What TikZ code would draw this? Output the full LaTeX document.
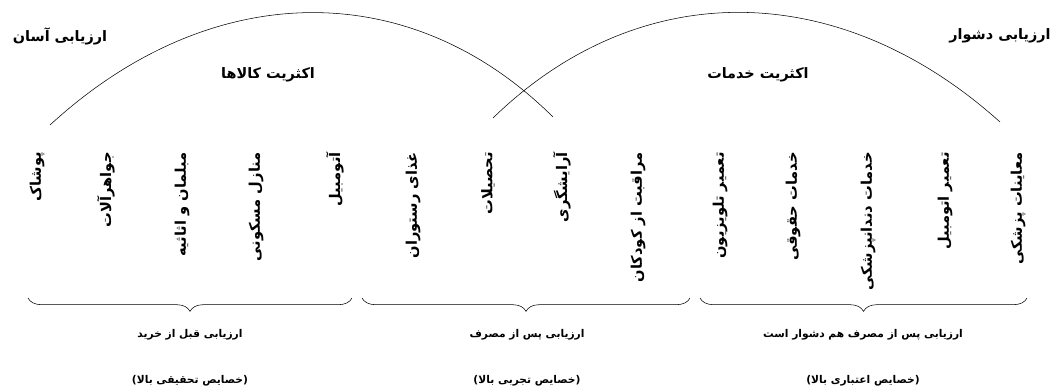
\documentclass[tikz,border=0pt]{standalone}
\usepackage{fontspec}
\newfontfamily\farsifont[Script=Arabic]{DejaVu Sans}
\TeXXeTstate=1
\usetikzlibrary{decorations.pathreplacing}

\newcommand{\fatext}[1]{\beginR #1\endR}

\begin{document}
\begin{tikzpicture}[x=0.75pt, y=-0.75pt,
    head/.style={font=\farsifont\bfseries\fontsize{10.8}{13}\selectfont},
    item/.style={rotate=90, anchor=east, inner sep=0pt,
        font=\farsifont\bfseries\fontsize{11}{13}\selectfont},
    note/.style={font=\farsifont\bfseries\fontsize{8}{10}\selectfont},
    curly/.style={decorate, decoration={brace, mirror, amplitude=10pt}}]
    \useasboundingbox (0,0) rectangle (1051,390);

    % two overlapping ranges
    \draw (50,125) coordinate (goodsA) .. controls (210,-22) and (410,-25) ..
        (553,117) coordinate (goodsB);
    \draw (493,118) coordinate (servA) .. controls (640,-25) and (840,-22) ..
        (1000,122) coordinate (servB);

    \node[head] (easy) at (60,36) {\fatext{ارزیابی آسان}};
    \node[head] (hard) at (1000,36) {\fatext{ارزیابی دشوار}};
    \node[head] (goods) at (268,75) {\fatext{اکثریت کالاها}};
    \node[head] (serv) at (758,75) {\fatext{اکثریت خدمات}};

    % products and services
    \node[item] (p1) at (37,152) {\fatext{پوشاک}};
    \node[item] (p2) at (106,152) {\fatext{جواهرآلات}};
    \node[item] (p3) at (182,152) {\fatext{مبلمان و اثاثیه}};
    \node[item] (p4) at (256,152) {\fatext{منازل مسکونی}};
    \node[item] (p5) at (335,152) {\fatext{آتومبیل}};
    \node[item] (p6) at (413,152) {\fatext{غذای رستوران}};
    \node[item] (p7) at (488,152) {\fatext{تحصیلات}};
    \node[item] (p8) at (562,152) {\fatext{آرایشگری}};
    \node[item] (p9) at (638,152) {\fatext{مراقبت از کودکان}};
    \node[item] (p10) at (720,152) {\fatext{تعمیر تلویزیون}};
    \node[item] (p11) at (793,152) {\fatext{خدمات حقوقی}};
    \node[item] (p12) at (868,152) {\fatext{خدمات دندانپزشکی}};
    \node[item] (p13) at (945,152) {\fatext{تعمیر اتومبیل}};
    \node[item] (p14) at (1018,152) {\fatext{معاینات پزشکی}};

    % braces
    \coordinate (b1s) at (28,298);
    \coordinate (b1e) at (352,298);
    \coordinate (b2s) at (362,298);
    \coordinate (b2e) at (690,298);
    \coordinate (b3s) at (700,298);
    \coordinate (b3e) at (1027,298);
    \draw[curly] (b1s) -- (b1e);
    \draw[curly] (b2s) -- (b2e);
    \draw[curly] (b3s) -- (b3e);

    \node[note] (s1) at (190,335) {\fatext{ارزیابی قبل از خرید}};
    \node[note] (t1) at (190,381) {\fatext{(خصایص تحقیقی بالا)}};
    \node[note] (s2) at (527,335) {\fatext{ارزیابی پس از مصرف}};
    \node[note] (t2) at (527,381) {\fatext{(خصایص تجربی بالا)}};
    \node[note] (s3) at (863,335) {\fatext{ارزیابی پس از مصرف هم دشوار است}};
    \node[note] (t3) at (863,381) {\fatext{(خصایص اعتباری بالا)}};
\end{tikzpicture}
\end{document}
